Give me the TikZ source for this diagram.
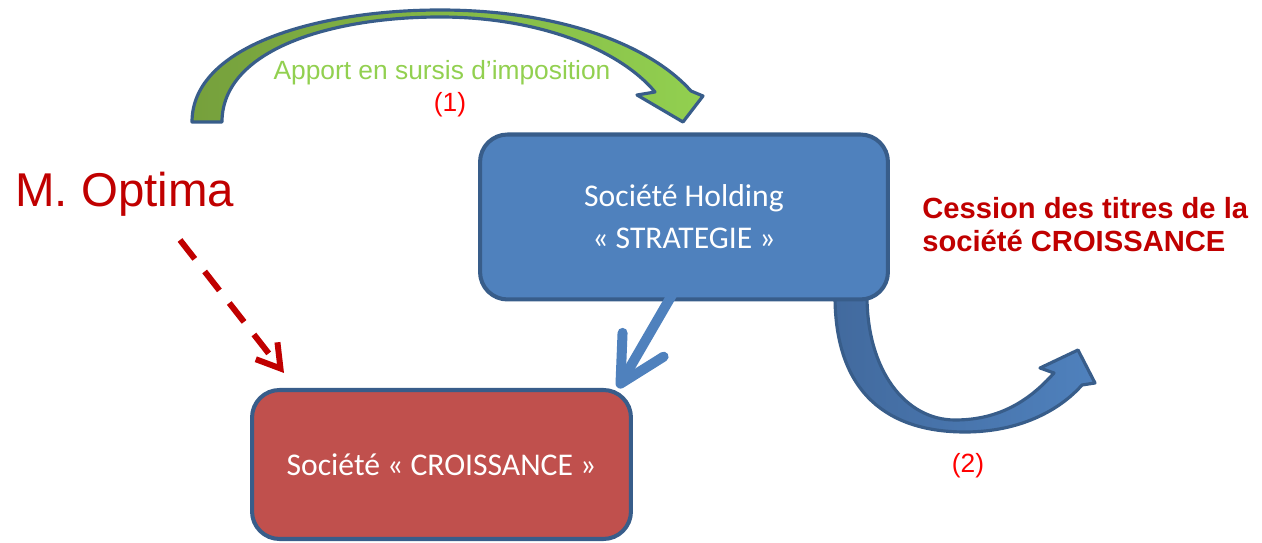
\documentclass[tikz,border=0pt]{standalone}
\usepackage{fontspec}
\setmainfont{Liberation Sans}
\newfontfamily\boxfont{Carlito}
\usetikzlibrary{arrows.meta}

\definecolor{optred}{RGB}{192,0,0}
\definecolor{lblue}{RGB}{79,129,189}
\definecolor{mblue}{RGB}{66,106,158}
\definecolor{dblue}{RGB}{56,93,138}
\definecolor{boxred}{RGB}{192,80,77}
\definecolor{lgreen}{RGB}{146,208,80}
\definecolor{dgreen}{RGB}{118,160,60}

\tikzset{
  entity/.style={draw=dblue, line width=2.3pt, rounded corners=0.55cm, text=white,
    font=\boxfont\fontsize{18}{24}\selectfont, align=center},
  bigarrow/.style={draw=dblue, line width=1.8pt, line join=round},
  label/.style={anchor=base, inner sep=0pt, font=\fontsize{15}{18}\selectfont},
}

\begin{document}
\begin{tikzpicture}[x=0.02cm, y=-0.02cm]
\useasboundingbox (0,0) rectangle (1262,543);

% curved arrow (1)
\path[bigarrow, left color=dgreen, right color=lgreen]
  (192,122) .. controls (192,45) and (320,10) .. (440,10)
  .. controls (560,10) and (650,45) .. (691,91)
  -- (703,96) -- (683,122) -- (637,95) -- (655,92)
  .. controls (620,50) and (540,17) .. (440,17)
  .. controls (330,17) and (222,50) .. (222,122) -- cycle;

% curved arrow (2)
\path[bigarrow, left color=mblue, right color=lblue]
  (835,296) .. controls (835,395) and (890,432) .. (965,432)
  .. controls (1020,432) and (1060,410) .. (1082,385)
  -- (1095,383) -- (1078,350) -- (1040,368) -- (1054,373)
  .. controls (1030,400) and (1000,420) .. (955,420)
  .. controls (905,420) and (867,370) .. (867,296) -- cycle;

\node[entity, fill=lblue, minimum width=8.16cm, minimum height=3.3cm] (holding) at (684,217) {Société Holding\\« STRATEGIE »};
\node[entity, fill=boxred, minimum width=7.58cm, minimum height=2.98cm] (croissance) at (441.5,464.5) {Société « CROISSANCE »};

\node[anchor=base west, inner sep=0pt, optred, font=\fontsize{27}{32}\selectfont] (optima) at (15,207) {M. Optima};
\node[label, lgreen] (apport) at (442,80) {Apport en sursis d’imposition};
\node[label, red] (one) at (450,112) {(1)};
\node[label, red] (two) at (968,473) {(2)};
\node[anchor=base west, inner sep=0pt, optred, align=left,
  font=\bfseries\fontsize{16.6}{19.3}\selectfont] (cession) at (922,252) {Cession des titres de la\\société CROISSANCE};

\coordinate (d1) at (180,240);
\coordinate (d2) at (284,373);
\coordinate (h1) at (676,288);
\coordinate (c1) at (618,388);

\draw[line width=3.4pt, optred, dash pattern=on 0.48cm off 0.32cm,
  -{Straight Barb[length=0.45cm, width=0.55cm]}] (d1) -- (d2);
\draw[line width=5.7pt, lblue, -{Straight Barb[round, length=0.9cm, width=0.95cm]}] (h1) -- (c1);

\end{tikzpicture}
\end{document}
